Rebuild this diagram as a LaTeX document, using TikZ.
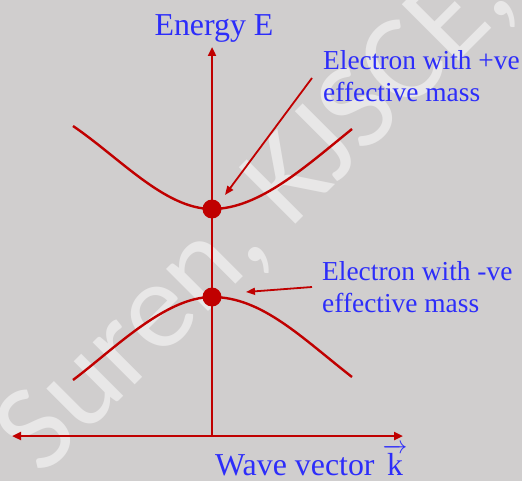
\documentclass[tikz,border=0pt]{standalone}
\usepackage{fontspec}
\setmainfont{Liberation Serif}
\newfontfamily\wmfont{Carlito}
\usetikzlibrary{arrows.meta}
\definecolor{bggray}{HTML}{D0CECE}
\definecolor{wmgray}{HTML}{E8E7E7}
\definecolor{darkred}{HTML}{C00000}
\definecolor{txtblue}{RGB}{45,45,250}
\tikzset{
  axisline/.style={draw=darkred, line width=2.6bp, -{Triangle[length=9bp,width=8bp]}},
  bandcurve/.style={draw=darkred, line width=2.4bp},
  pointer/.style={draw=darkred, line width=1.8bp, -{Triangle[length=9bp,width=7bp]}},
  electron/.style={circle, fill=darkred, inner sep=0pt, minimum size=19bp},
  biglabel/.style={text=txtblue, font=\fontsize{32}{36}\selectfont, inner sep=0pt},
  smalllabel/.style={text=txtblue, font=\fontsize{27.5}{32}\selectfont, inner sep=0pt, align=left},
}
\begin{document}
\begin{tikzpicture}[x=1bp,y=-1bp]
\useasboundingbox (0,0) rectangle (522,481);
\fill[bggray] (0,0) rectangle (522,481);
% watermark
\node[text=wmgray, font=\wmfont\fontsize{125}{125}\selectfont, rotate=45, anchor=base, inner sep=0pt] (wm) at (280,240) {Suren, KJSCE,};
% axes
\coordinate (origin) at (212,436);
\coordinate (etop) at (212,47);
\coordinate (kleft) at (12,436);
\coordinate (kright) at (403,436);
\draw[axisline] (origin) -- (etop);
\draw[axisline, {Triangle[length=9bp,width=8bp]}-{Triangle[length=9bp,width=8bp]}] (kleft) -- (kright);
% conduction band
\coordinate (cbl) at (73,126);
\coordinate (cbmin) at (212,209);
\coordinate (cbr) at (352,129);
\draw[bandcurve] (cbl) .. controls (120,158) and (165,209) .. (cbmin)
  .. controls (259,209) and (305,167) .. (cbr);
% valence band
\coordinate (vbl) at (73,380);
\coordinate (vbmax) at (212,297);
\coordinate (vbr) at (352,377);
\draw[bandcurve] (vbl) .. controls (113,350) and (165,297) .. (vbmax)
  .. controls (262,297) and (302,338) .. (vbr);
% electrons
\node[electron] (eplus) at (cbmin) {};
\node[electron] (eminus) at (vbmax) {};
% labels
\node[biglabel, anchor=base] (elabel) at (214,36) {Energy E};
\node[biglabel, anchor=base west] (klabel) at (215,475) {Wave vector $\overrightarrow{\hbox{k}}$};
\node[smalllabel, anchor=base west] (plus1) at (323,70) {Electron with +ve};
\node[smalllabel, anchor=base west] (plus2) at (323,102) {effective mass};
\node[smalllabel, anchor=base west] (minus1) at (322,280) {Electron with -ve};
\node[smalllabel, anchor=base west] (minus2) at (322,312) {effective mass};
% pointers
\coordinate (p1s) at (312,78);
\coordinate (p1e) at (225,195);
\coordinate (p2s) at (312,287);
\coordinate (p2e) at (246,292);
\draw[pointer] (p1s) -- (p1e);
\draw[pointer] (p2s) -- (p2e);
\end{tikzpicture}
\end{document}
